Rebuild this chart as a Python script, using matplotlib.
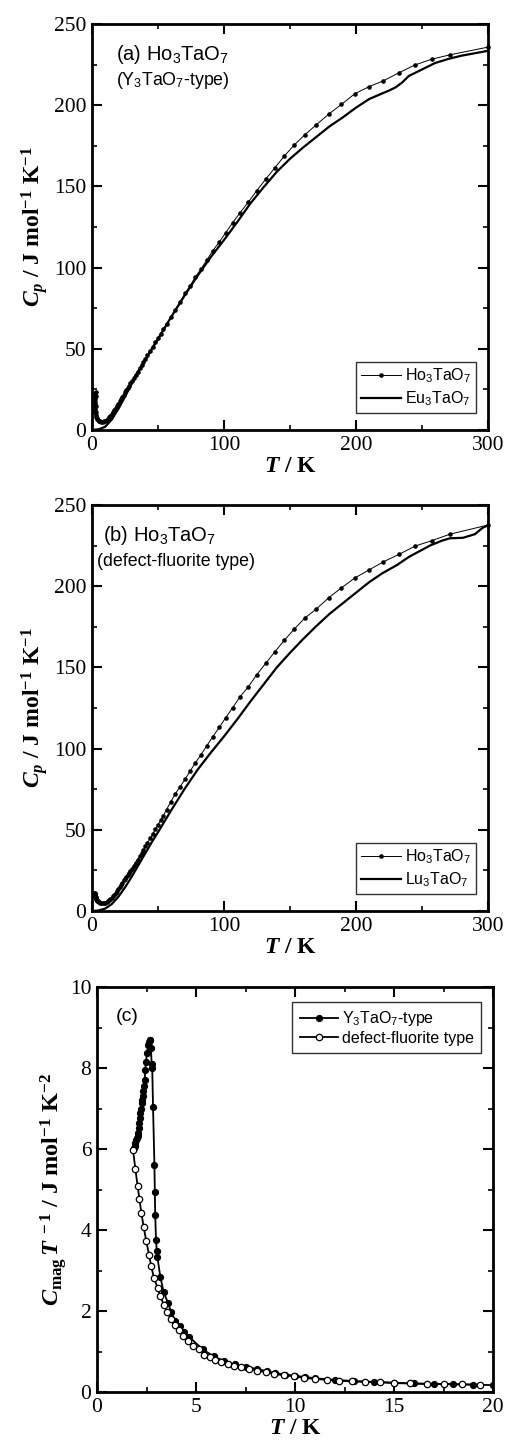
import matplotlib
matplotlib.use("Agg")
import matplotlib.pyplot as plt
from matplotlib.ticker import MultipleLocator

plt.rcParams['font.family'] = ['Liberation Serif', 'DejaVu Serif']
plt.rcParams['mathtext.fontset'] = 'custom'
plt.rcParams['mathtext.rm'] = 'Liberation Serif:bold'
plt.rcParams['mathtext.it'] = 'Liberation Serif:italic:bold'
plt.rcParams['mathtext.bf'] = 'Liberation Serif:bold'
plt.rcParams['mathtext.sf'] = 'Liberation Sans'

# ---------------- data ----------------
# (a) Ho3TaO7 (Y3TaO7-type) and Eu3TaO7
ho_a_T = [1.85, 1.95, 2.05, 2.15, 2.25, 2.35, 2.45, 2.55, 2.65, 2.75, 2.85, 2.95, 3.05, 3.2, 3.4,
          3.7, 4.0, 4.5, 5.0, 5.5, 6.0, 7.0, 8.0, 9.0, 10, 11, 12, 13, 14, 15, 16, 17, 18, 19, 20,
          21, 22, 23, 24, 25, 26, 27, 28, 29, 30, 31.5, 33, 34.5, 36, 37.5, 39, 40.5, 42, 44, 46,
          48, 50, 52, 54, 56.5, 59.7, 63, 66.8, 70.6, 74.4, 78.1, 82.4, 87, 91.5, 96.3, 101.3,
          106.6, 112.2, 118.5, 124.8, 131.6, 138.6, 145.7, 153, 161, 170, 179.5, 189, 199, 209.8,
          220.7, 232.6, 244.7, 257.3, 271, 300.2]
ho_a_Cp = [11, 13, 14.5, 16, 17.5, 19, 20.5, 22, 23, 23.3, 21, 15, 11, 9, 8,
           7.2, 6.7, 6.2, 5.8, 5.5, 5.3, 5.0, 5.0, 5.3, 5.7, 6.3, 7.0, 7.9, 8.8, 9.8, 10.9, 12.1, 13.4, 14.8, 16.2,
           17.6, 19.0, 20.4, 21.8, 23.2, 24.6, 26.0, 27.3, 28.7, 30.0, 32.0, 34.0, 36.0, 38.0, 40.0, 42.0, 44.0, 46.0, 48.7, 51.3,
           54.0, 56.6, 59.3, 62.0, 65.3, 69.5, 73.9, 79.0, 84.2, 88.9, 94.0, 98.9, 104.7, 110.4, 115.6, 121.5,
           127.7, 133.8, 140.4, 147.4, 154.5, 161.5, 168.7, 175.3, 181.6, 188.0, 194.6, 200.5, 207.0, 211.4,
           215.0, 220.0, 224.8, 228.3, 231.0, 235.8]
eu_T = [0, 5, 10, 15, 20, 25, 30, 35, 40, 45, 50, 55, 60, 70, 80, 90, 100, 110, 120, 130, 140, 150,
        160, 170, 180, 190, 200, 210, 220, 225, 230, 235, 240, 250, 260, 270, 280, 290, 300]
eu_Cp = [0, 0.4, 2.0, 6.5, 13, 20.5, 28.5, 36, 42.5, 49.5, 56, 62.8, 69.6, 82.6, 95, 106.5, 117, 128,
         139.5, 149.5, 159, 167, 174, 180.5, 187, 192.5, 198.5, 203.8, 207.3, 209, 211, 214, 218, 222,
         226, 228.5, 230.5, 232, 233.5]

# (b) Ho3TaO7 (defect-fluorite type) and Lu3TaO7
ho_b_T = ho_a_T
ho_b_Cp = [11.2, 10.9, 10.6, 10.3, 10.0, 9.7, 9.4, 9.1, 8.9, 8.6, 8.3, 8.1, 7.9, 7.6, 7.2,
           6.8, 6.4, 6.0, 5.6, 5.3, 5.1, 4.8, 4.7, 4.8, 5.1, 5.5, 6.0, 6.6, 7.3, 8.2, 9.1, 10.1, 11.2, 12.4, 13.6,
           14.9, 16.2, 17.5, 18.8, 20.0, 21.2, 22.4, 23.6, 24.8, 26.0, 27.8, 29.7, 31.6, 33.6, 35.6, 37.7, 39.8, 41.9, 44.7, 47.5,
           50.3, 53.1, 55.9, 58.7, 62.5, 67.3, 72.0, 76.6, 81.3, 86.2, 91.0, 96.0, 101.8, 107.3, 113.0, 119.0,
           125.2, 132.0, 138.1, 145.5, 152.5, 159.7, 166.7, 173.4, 180.2, 186.0, 193.0, 199.0, 205.0, 210.0,
           215.0, 219.6, 224.7, 228.0, 232.0, 237.7]
lu_T = [0, 5, 10, 15, 20, 25, 30, 35, 40, 45, 50, 60, 70, 80, 90, 100, 110, 120, 130, 140, 150, 160,
        170, 180, 190, 200, 210, 220, 231, 240, 256, 265, 271, 281, 290, 296, 300]
lu_Cp = [0, 0.3, 1.5, 4.3, 8.8, 14.5, 21, 28, 35, 42, 48.5, 62, 75, 87, 97.5, 107.5, 118, 129, 139.5,
         150, 159, 167.5, 175.5, 183, 189.5, 196, 202.5, 208, 213, 218, 225, 228, 229.5, 229.8, 232,
         236, 237.5]

# (c) Cmag/T
y3_T = [1.85, 1.9, 1.94, 1.98, 2.02, 2.05, 2.07, 2.1, 2.13, 2.15, 2.19, 2.22, 2.25, 2.27, 2.31, 2.34,
        2.36, 2.41, 2.44, 2.47, 2.53, 2.58, 2.62, 2.66, 2.69, 2.72, 2.76, 2.79, 2.83, 2.9, 2.92, 2.94,
        2.98, 3.02, 3.05, 3.2, 3.37, 3.59, 3.74, 3.96, 4.18, 4.38, 4.63, 5.35, 5.89, 6.4, 6.95, 7.5,
        8.1, 8.6, 9.0, 9.5, 10.0, 10.5, 11.0, 12, 13, 14, 15, 16, 17, 18, 19, 20]
y3_v = [6.02, 6.08, 6.15, 6.21, 6.27, 6.33, 6.4, 6.52, 6.65, 6.77, 6.89, 7.0, 7.14, 7.22, 7.3, 7.42,
        7.55, 7.71, 7.96, 8.16, 8.37, 8.58, 8.65, 8.68, 8.7, 8.5, 8.1, 8.0, 7.03, 5.61, 4.95, 4.38,
        3.76, 3.47, 3.33, 2.84, 2.46, 2.2, 1.98, 1.76, 1.62, 1.47, 1.37, 1.05, 0.88, 0.77, 0.68, 0.61,
        0.57, 0.51, 0.47, 0.43, 0.4, 0.37, 0.34, 0.3, 0.27, 0.25, 0.23, 0.21, 0.2, 0.19, 0.18, 0.17]
df_T = [1.82, 1.94, 2.05, 2.14, 2.24, 2.36, 2.49, 2.63, 2.74, 2.88, 3.06, 3.2, 3.37, 3.54, 3.74, 3.92,
        4.12, 4.34, 4.6, 4.85, 5.13, 5.42, 5.69, 5.98, 6.28, 6.6, 6.9, 7.27, 7.66, 8.08, 8.52, 8.96,
        9.43, 9.93, 10.47, 11.03, 11.62, 12.2, 12.88, 13.55, 14.28, 15.02, 15.82, 16.67, 17.5, 18.43, 19.36]
df_v = [5.97, 5.5, 5.09, 4.77, 4.42, 4.07, 3.72, 3.39, 3.1, 2.81, 2.57, 2.36, 2.16, 1.97, 1.8, 1.66,
        1.52, 1.39, 1.27, 1.14, 1.05, 0.92, 0.86, 0.8, 0.74, 0.7, 0.65, 0.62, 0.58, 0.53, 0.49, 0.45,
        0.41, 0.39, 0.35, 0.32, 0.3, 0.28, 0.26, 0.25, 0.24, 0.22, 0.21, 0.2, 0.2, 0.19, 0.18]

# ---------------- figure ----------------
W, H = 505, 1446
fig = plt.figure(figsize=(W / 100, H / 100), dpi=100)

def px_axes(l, t, r, b):
    return fig.add_axes([l / W, 1 - b / H, (r - l) / W, (b - t) / H])

def style(ax, xmaj, xmin, ymaj, ymin):
    ax.xaxis.set_major_locator(MultipleLocator(xmaj))
    ax.xaxis.set_minor_locator(MultipleLocator(xmin))
    ax.yaxis.set_major_locator(MultipleLocator(ymaj))
    ax.yaxis.set_minor_locator(MultipleLocator(ymin))
    ax.tick_params(which='both', direction='in', top=True, right=True, labelsize=15.5, pad=4)
    ax.tick_params(which='major', length=7, width=1.5)
    ax.tick_params(which='minor', length=3.5, width=1.2)
    for s in ax.spines.values():
        s.set_linewidth(2.0)

lbl_kw = dict(fontsize=17, fontweight='bold')
sans = ['Liberation Sans', 'DejaVu Sans']

def cp_panel(ax, hoT, hoC, refT, refC, reflabel, line1, line2, x1, x2):
    ax.plot(refT, refC, color='k', lw=1.6, label=reflabel, zorder=2)
    ax.plot(hoT, hoC, color='k', lw=0.7, marker='o', ms=3.3, mew=0,
            label=r'$\mathsf{Ho_3TaO_7}$', zorder=3, clip_on=False)
    ax.set_xlim(0, 300)
    ax.set_ylim(0, 250)
    style(ax, 100, 50, 50, 25)
    ax.set_xlabel(r'$T$ / K', labelpad=1, **lbl_kw)
    ax.set_ylabel(r'$C_p$ / J mol$^{-1}$ K$^{-1}$', labelpad=3, **lbl_kw)
    h, l = ax.get_legend_handles_labels()
    leg = ax.legend([h[1], h[0]], [l[1], l[0]], loc='lower right',
                    bbox_to_anchor=(0.97, 0.042), borderaxespad=0, frameon=True,
                    fancybox=False, edgecolor='k', handlelength=2.5, handletextpad=0.25,
                    borderpad=0.3, labelspacing=0.25, prop={'family': sans, 'size': 11.5})
    leg.get_frame().set_linewidth(1.0)
    ax.text(x1, 0.926, line1, transform=ax.transAxes, ha='left', va='center',
            family=sans, fontsize=14.5)
    ax.text(x2, 0.862, line2, transform=ax.transAxes, ha='left', va='center',
            family=sans, fontsize=12.8)

axa = px_axes(92, 24, 488, 430)
cp_panel(axa, ho_a_T, ho_a_Cp, eu_T, eu_Cp, r'$\mathsf{Eu_3TaO_7}$',
         r'(a) Ho$_\mathsf{3}$TaO$_\mathsf{7}$', r'(Y$_\mathsf{3}$TaO$_\mathsf{7}$-type)', 0.06, 0.06)

axb = px_axes(92, 505, 488, 911)
cp_panel(axb, ho_b_T, ho_b_Cp, lu_T, lu_Cp, r'$\mathsf{Lu_3TaO_7}$',
         r'(b) Ho$_\mathsf{3}$TaO$_\mathsf{7}$', '(defect-fluorite type)', 0.028, 0.012)

axc = px_axes(97, 987, 493, 1392)
axc.plot(y3_T, y3_v, color='k', lw=1.3, marker='o', ms=4.4, mfc='k', mec='k', mew=0.8,
         label=r'Y$_\mathsf{3}$TaO$_\mathsf{7}$-type', zorder=2)
axc.plot(df_T, df_v, color='k', lw=1.3, marker='o', ms=4.6, mfc='white', mec='k', mew=0.9,
         label='defect-fluorite type', zorder=3)
axc.set_xlim(0, 20)
axc.set_ylim(0, 10)
style(axc, 5, 2.5, 2, 1)
axc.set_xlabel(r'$T$ / K', labelpad=1, **lbl_kw)
axc.set_ylabel(r'$C_{\mathrm{mag}}\,T^{\,-1}$ / J mol$^{-1}$ K$^{-2}$', labelpad=1, fontsize=17.5,
               fontweight='bold')
legc = axc.legend(loc='upper right', bbox_to_anchor=(0.97, 0.963), borderaxespad=0,
                  frameon=True, fancybox=False, edgecolor='k', handlelength=2.4,
                  handletextpad=0.25, borderpad=0.45, labelspacing=0.15,
                  prop={'family': sans, 'size': 11.5})
legc.get_frame().set_linewidth(1.0)
axc.text(0.048, 0.926, '(c)', transform=axc.transAxes, ha='left', va='center',
         family=sans, fontsize=14)

fig.savefig('out.png', dpi=100)
